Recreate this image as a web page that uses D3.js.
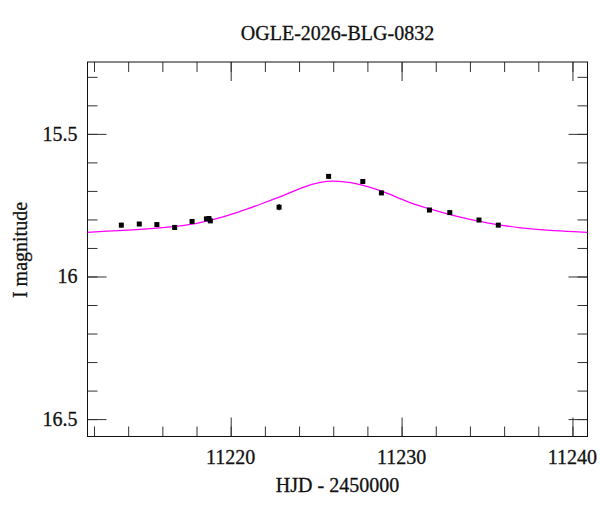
<!DOCTYPE html>
<html>
<head>
<meta charset="utf-8">
<script src="https://cdn.jsdelivr.net/npm/d3@7"></script>
<style>
  body { margin: 0; background: #fff; }
  text { font-family: "Liberation Serif", "Times New Roman", serif; fill: #111; stroke: #111; stroke-width: 0.3; }
</style>
</head>
<body>
<script>
const w = 600;
const h = 512;

// observations (HJD - 2450000, I mag, error)
const hjd = [11213.60, 11214.65, 11215.68, 11216.72, 11217.74, 11218.58, 11218.73, 11218.81,
  11222.83, 11225.73, 11227.73, 11228.82, 11231.63, 11232.82, 11234.53, 11235.66];
const mag = [15.820, 15.816, 15.818, 15.828, 15.807, 15.798, 15.797, 15.805,
  15.757, 15.649, 15.667, 15.707, 15.767, 15.776, 15.802, 15.820];
const err = [0.008, 0.006, 0.006, 0.006, 0.006, 0.007, 0.007, 0.007,
  0.011, 0.005, 0.005, 0.005, 0.005, 0.007, 0.005, 0.005];

// model curve
const modelT = [11211.6, 11214.5, 11217.4, 11218.9, 11220.4, 11221.9, 11223.3, 11224.3, 11225.2,
  11226.0, 11227.0, 11228.2, 11229.2, 11230.3, 11231.7, 11233.1, 11235.0, 11237.0, 11238.9, 11240.9];
const modelM = [15.845, 15.837, 15.823, 15.802, 15.776, 15.743, 15.711, 15.685, 15.669,
  15.664, 15.669, 15.687, 15.708, 15.738, 15.764, 15.788, 15.813, 15.831, 15.840, 15.845];

const xMajor = [11220, 11230, 11240];
const xMinor = [11212, 11214, 11216, 11218, 11220, 11222, 11224, 11226, 11228, 11230,
  11232, 11234, 11236, 11238, 11240];
const yMajor = [15.5, 16, 16.5];
const yMinor = [15.3, 15.4, 15.5, 15.6, 15.7, 15.8, 15.9, 16, 16.1, 16.2, 16.3, 16.4, 16.5];

const m = { t: 62, r: 12.5, b: 75.5, l: 87.5 };
const gw = w - m.l - m.r;
const gh = h - m.t - m.b;

const svg = d3.select("body").append("svg").attr("width", w).attr("height", h);
const g = svg.append("g").attr("transform", `translate(${m.l}, ${m.t})`);

const xScale = d3.scaleLinear().domain([11211.62, 11240.88]).range([0, gw]);
const yScale = d3.scaleLinear().domain([15.248, 16.561]).range([0, gh]);

// ticks on all four sides, pointing inward
const tickSets = [
  [d3.axisBottom(xScale).tickValues(xMinor).tickSize(-10), `translate(0, ${gh})`],
  [d3.axisBottom(xScale).tickValues(xMajor).tickSize(-19), `translate(0, ${gh})`],
  [d3.axisTop(xScale).tickValues(xMinor).tickSize(-10), null],
  [d3.axisTop(xScale).tickValues(xMajor).tickSize(-19), null],
  [d3.axisLeft(yScale).tickValues(yMinor).tickSize(-10), null],
  [d3.axisLeft(yScale).tickValues(yMajor).tickSize(-19), null],
  [d3.axisRight(yScale).tickValues(yMinor).tickSize(-10), `translate(${gw}, 0)`],
  [d3.axisRight(yScale).tickValues(yMajor).tickSize(-19), `translate(${gw}, 0)`]
];
tickSets.forEach(([ax, tr]) => {
  const ag = g.append("g").call(ax.tickFormat(""));
  if (tr) ag.attr("transform", tr);
  ag.select(".domain").remove();
  ag.selectAll("line").attr("stroke", "#333");
});

// frame
g.append("rect")
  .attr("width", gw)
  .attr("height", gh)
  .attr("fill", "none")
  .attr("stroke", "#111");

// tick labels
g.selectAll(".xlab")
  .data(xMajor)
  .enter()
  .append("text")
  .attr("x", (d) => xScale(d))
  .attr("y", gh + 27)
  .attr("text-anchor", "middle")
  .attr("font-size", 20)
  .text((d) => d);

g.selectAll(".ylab")
  .data(yMajor)
  .enter()
  .append("text")
  .attr("x", -10)
  .attr("y", (d) => yScale(d))
  .attr("dy", "0.34em")
  .attr("text-anchor", "end")
  .attr("font-size", 20)
  .text((d) => d);

// titles
svg.append("text")
  .attr("x", m.l + gw / 2)
  .attr("y", 40)
  .attr("text-anchor", "middle")
  .attr("font-size", 20)
  .text("OGLE-2026-BLG-0832");

svg.append("text")
  .attr("x", m.l + gw / 2)
  .attr("y", 492)
  .attr("text-anchor", "middle")
  .attr("font-size", 20)
  .text("HJD - 2450000");

svg.append("text")
  .attr("transform", "rotate(-90)")
  .attr("x", -250)
  .attr("y", 27)
  .attr("text-anchor", "middle")
  .attr("font-size", 20)
  .text("I magnitude");

// model
const model = modelT.map((t, i) => ({ t, m: modelM[i] }));
g.append("clipPath").attr("id", "clip").append("rect").attr("width", gw).attr("height", gh);
g.append("path")
  .datum(model)
  .attr("clip-path", "url(#clip)")
  .attr("fill", "none")
  .attr("stroke", "#ff00ff")
  .attr("stroke-width", 1.3)
  .attr("d", d3.line().x((d) => xScale(d.t)).y((d) => yScale(d.m)).curve(d3.curveBasis));

// data points
const pts = hjd.map((t, i) => ({ t, m: mag[i], e: err[i] }));
g.selectAll(".err")
  .data(pts)
  .enter()
  .append("line")
  .attr("x1", (d) => xScale(d.t))
  .attr("x2", (d) => xScale(d.t))
  .attr("y1", (d) => yScale(d.m - d.e))
  .attr("y2", (d) => yScale(d.m + d.e))
  .attr("stroke", "#000")
  .attr("stroke-width", 1.2);

g.selectAll(".pt")
  .data(pts)
  .enter()
  .append("rect")
  .attr("x", (d) => xScale(d.t) - 2.5)
  .attr("y", (d) => yScale(d.m) - 2.5)
  .attr("width", 5)
  .attr("height", 5)
  .attr("fill", "#000");
</script>
</body>
</html>
